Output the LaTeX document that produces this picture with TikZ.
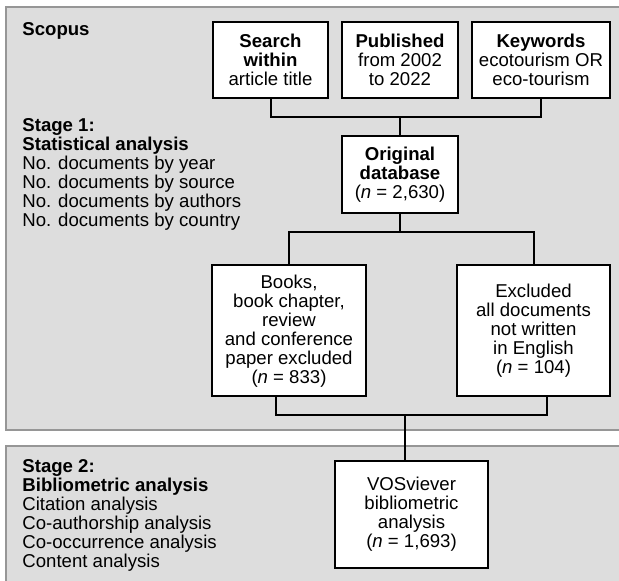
\documentclass[tikz,border=0pt]{standalone}
\usepackage{fontspec}
\setmainfont{Liberation Sans}
\usepackage{tikz}
\definecolor{panelgrey}{RGB}{221,221,221}
\definecolor{panelline}{RGB}{150,150,150}
\tikzset{
  font={\fontsize{9.3pt}{9.5pt}\selectfont}}
\tikzset{
  panel/.style={draw=panelline, fill=panelgrey, line width=1pt},
  stagetext/.style={anchor=north west, inner sep=0pt, align=left},
  flowbox/.style={draw=black, fill=white, line width=1pt, inner sep=0pt, align=center},
  link/.style={draw=black, line width=1pt}}

\begin{document}
\begin{tikzpicture}[x=0.5pt,y=-0.5pt]
\useasboundingbox (0,0) rectangle (619,581);
\clip (0,0) rectangle (619,581);
\draw [panel] (6,7) rectangle (640,430);
\draw [panel] (6,446) rectangle (640,600);
\node (scopus) [anchor=base west, inner sep=0pt] at (22,36) {\textbf{Scopus}};
\node (stageone) [stagetext] at (22,118.5) {\textbf{Stage 1:}\\\textbf{Statistical analysis}\\No. documents by year\\No. documents by source\\No. documents by authors\\No. documents by country};
\node (stagetwo) [stagetext] at (22,459.5) {\textbf{Stage 2:}\\\textbf{Bibliometric analysis}\\Citation analysis\\Co-authorship analysis\\Co-occurrence analysis\\Content analysis};
\node (search) [flowbox, minimum width=57.5pt, minimum height=38pt] at (270.5,60) {\textbf{Search}\\\textbf{within}\\article title};
\node (published) [flowbox, minimum width=58pt, minimum height=38pt] at (400,60) {\textbf{Published}\\from 2002\\to 2022};
\node (keywords) [flowbox, minimum width=69pt, minimum height=38pt] at (541,60) {\textbf{Keywords}\\ecotourism OR\\eco-tourism};
\node (original) [flowbox, minimum width=58pt, minimum height=38.5pt] at (400,174.5) {\textbf{Original}\\\textbf{database}\\(\textit{n} = 2,630)};
\node (books) [flowbox, minimum width=77pt, minimum height=65.5pt] at (289,331) {Books,\\book chapter,\\review\\and conference\\paper excluded\\(\textit{n} = 833)};
\node (excluded) [flowbox, minimum width=76.5pt, minimum height=65.5pt] at (533.5,331) {Excluded\\all documents\\not written\\in English\\(\textit{n} = 104)};
\node (vos) [flowbox, minimum width=76.5pt, minimum height=53.5pt] at (411.5,514.5) {VOSviever\\bibliometric\\analysis\\(\textit{n} = 1,693)};
\coordinate (topjoin) at (400,117);
\coordinate (midjoin) at (400,232);
\coordinate (lowjoin) at (405,415);
\draw [link] (search.south) |- (topjoin) -| (keywords.south);
\draw [link] (topjoin) -- (original.north);
\draw [link] (original.south) -- (midjoin);
\draw [link] (books.north) |- (midjoin) -| (excluded.north);
\draw [link] ([xshift=-6.5pt]books.south) |- (lowjoin) -| ([xshift=6.75pt]excluded.south);
\draw [link] (lowjoin) -- (lowjoin |- vos.north);
\end{tikzpicture}
\end{document}
